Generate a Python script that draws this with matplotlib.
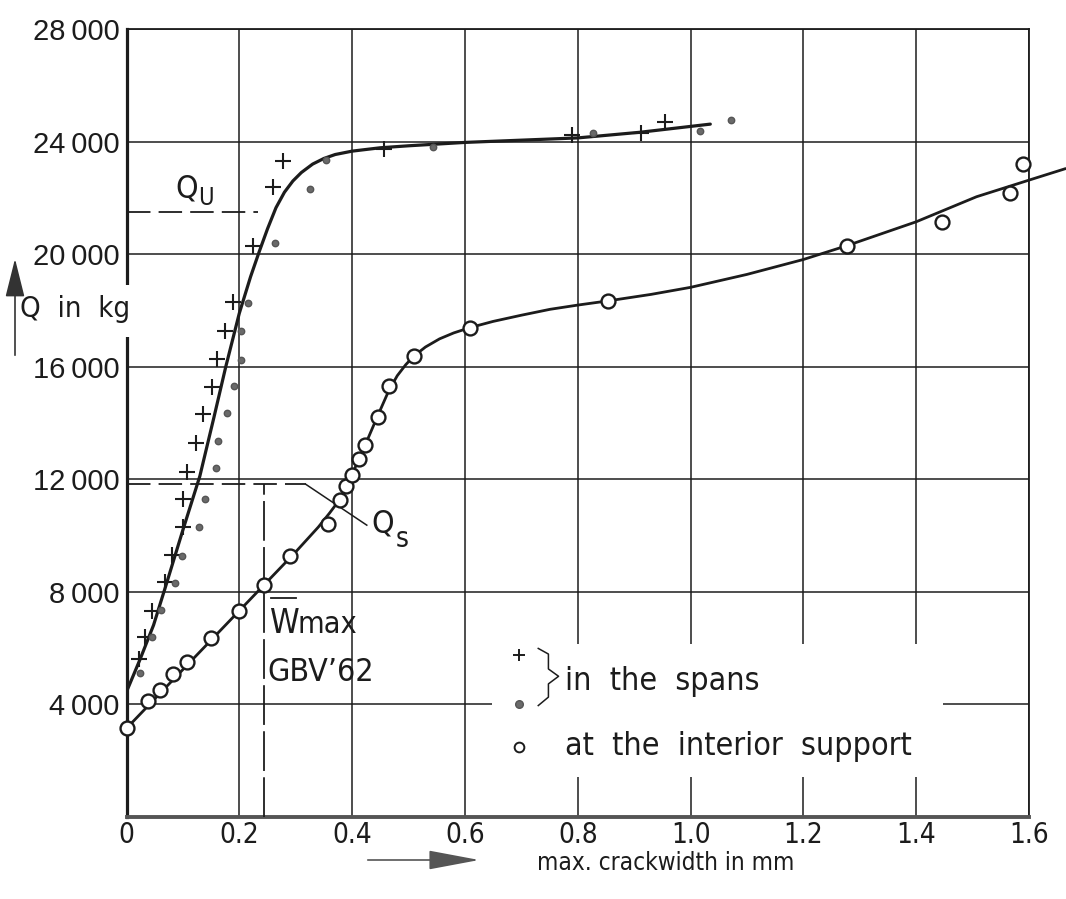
import matplotlib
matplotlib.use("Agg")
import matplotlib.pyplot as plt
from matplotlib.font_manager import fontManager
from matplotlib.patches import Rectangle

# measured crack widths (mm) and loads (kg)
# "+" in the spans
plus_w = [0.0227, 0.033, 0.0447, 0.068, 0.080, 0.101, 0.101, 0.108, 0.123, 0.135, 0.151,
          0.161, 0.175, 0.189, 0.225, 0.259, 0.278, 0.457, 0.789, 0.912, 0.955]
plus_q = [5600, 6400, 7320, 8360, 9310, 10310, 11290, 12270, 13300, 14320, 15290,
          16290, 17280, 18300, 20290, 22370, 23310, 23750, 24230, 24320, 24700]
# "." in the spans
dot_w = [0.024, 0.045, 0.062, 0.086, 0.098, 0.129, 0.139, 0.159, 0.162, 0.178, 0.191,
         0.203, 0.203, 0.215, 0.263, 0.325, 0.353, 0.543, 0.827, 1.017, 1.071]
dot_q = [5130, 6400, 7350, 8300, 9270, 10310, 11290, 12410, 13370, 14360, 15310,
         16230, 17260, 18270, 20380, 22330, 23340, 23810, 24290, 24380, 24760]
# "o" at the interior support
circ_w = [0, 0.039, 0.059, 0.082, 0.108, 0.149, 0.199, 0.244, 0.289, 0.358, 0.379, 0.390,
          0.400, 0.412, 0.423, 0.445, 0.465, 0.509, 0.609, 0.854, 1.277, 1.446, 1.567, 1.589]
circ_q = [3170, 4110, 4510, 5070, 5510, 6360, 7330, 8250, 9270, 10400, 11250, 11750,
          12170, 12720, 13210, 14220, 15310, 16380, 17360, 18330, 20300, 21140, 22180, 23190]

# hand drawn mean curves
span_w = [0, 0.024, 0.048, 0.071, 0.10, 0.13, 0.155, 0.176, 0.2, 0.22, 0.2355, 0.25, 0.265,
          0.28, 0.295, 0.31, 0.33, 0.35, 0.37, 0.40, 0.45, 0.5, 0.6, 0.7, 0.8, 0.91, 1.035]
span_q = [4450, 5600, 6820, 8300, 10200, 12110, 14200, 16000, 17900, 19200, 20100, 20900, 21650,
          22200, 22600, 22900, 23200, 23400, 23540, 23660, 23780, 23850, 23970, 24050, 24130, 24330, 24620]
supp_w = [0, 0.1, 0.2, 0.3, 0.34, 0.36, 0.375, 0.39, 0.40, 0.412, 0.423, 0.445, 0.465, 0.48,
          0.495, 0.509, 0.53, 0.555, 0.58, 0.609, 0.65, 0.7, 0.751, 0.8, 0.854, 0.93, 1.0,
          1.1, 1.2, 1.277, 1.4, 1.507, 1.6, 1.665]
supp_q = [3150, 5240, 7330, 9420, 10300, 10800, 11200, 11750, 12170, 12720, 13210, 14240, 15150, 15680,
          16070, 16370, 16700, 16990, 17200, 17390, 17610, 17830, 18040, 18190, 18340, 18570, 18820,
          19280, 19810, 20300, 21150, 22040, 22630, 23040]

x_ticks = [0, 0.2, 0.4, 0.6, 0.8, 1.0, 1.2, 1.4, 1.6]
x_labels = ["0", "0.2", "0.4", "0.6", "0.8", "1.0", "1.2", "1.4", "1.6"]
y_ticks = [4000, 8000, 12000, 16000, 20000, 24000, 28000]
y_labels = ["4\u2009000", "8\u2009000", "12\u2009000", "16\u2009000", "20\u2009000", "24\u2009000", "28\u2009000"]

q_u = 21490
q_s = 11820
w_max = 0.244

names = {f.name for f in fontManager.ttflist}
tech = "Liberation Sans Narrow" if "Liberation Sans Narrow" in names else "DejaVu Sans"
tech_fam = [tech, "DejaVu Sans"]
num_fam = ["Liberation Sans", "DejaVu Sans"]
ink = "#1c1c1c"
tk = dict(family=tech_fam, stretch="condensed", color=ink)

fig = plt.figure(figsize=(10.66, 8.99), dpi=100)
ax = fig.add_axes([126.5 / 1066, 1 - 817 / 899, 902.5 / 1066, 788 / 899])
ax.set_xlim(0, 1.6)
ax.set_ylim(0, 28000)

ax.set_xticks(x_ticks)
ax.set_xticklabels(x_labels, family=tech_fam, fontsize=20, stretch="condensed")
ax.set_yticks(y_ticks)
ax.set_yticklabels(y_labels, family=num_fam, fontsize=21)
ax.tick_params(length=0, colors=ink)
ax.tick_params(axis="x", pad=3)
ax.tick_params(axis="y", pad=5)
ax.grid(True, color=ink, lw=1.1)
ax.set_axisbelow(True)

for side, w in [("left", 2.3), ("bottom", 2.8), ("top", 1.3), ("right", 1.3)]:
    ax.spines[side].set_linewidth(w)
    ax.spines[side].set_color(ink if side != "bottom" else "#555555")

# gap in the grid behind the key
ax.add_patch(Rectangle((0.648, 1420), 0.8, 4730, facecolor="white", edgecolor="none", zorder=1))
# gap in the left axis line where the axis title sits
ax.add_patch(Rectangle((-0.012, 17050), 0.024, 1850, facecolor="white", edgecolor="none",
                       zorder=3, clip_on=False))

ax.plot(span_w, span_q, color=ink, lw=2.3, zorder=3, solid_capstyle="round")
ax.plot(supp_w, supp_q, color=ink, lw=2.0, zorder=3, clip_on=False, solid_capstyle="round")

ax.plot(plus_w, plus_q, ls="none", marker="+", ms=12, mew=1.5, color=ink, zorder=4)
ax.plot(dot_w, dot_q, ls="none", marker="o", ms=4.6, color="#6a6a6a", mec="#555555", zorder=4)
ax.plot(circ_w, circ_q, ls="none", marker="o", ms=10, mfc="white", mec=ink, mew=1.7,
        zorder=5, clip_on=False)

# Q_U
dash = (0, (13, 4.5))
ax.plot([0, 0.233], [q_u, q_u], color=ink, lw=1.3, ls=dash, zorder=3)
ax.text(0.106, 22330, "Q", fontsize=23, ha="center", va="center", **tk)
ax.text(0.141, 21990, "U", fontsize=17, ha="center", va="center", **tk)

# Q_s
ax.plot([0, 0.318], [q_s, q_s], color=ink, lw=1.3, ls=dash, zorder=3)
ax.plot([0.318, 0.426], [q_s, 10370], color=ink, lw=1.1, zorder=3)
ax.plot([w_max, w_max], [0, q_s], color=ink, lw=1.3, ls=(0, (22, 3.5)), zorder=3)
ax.text(0.455, 10410, "Q", fontsize=23, ha="center", va="center", **tk)
ax.text(0.489, 9875, "s", fontsize=20, ha="center", va="center", **tk)

# W_max GBV'62
ax.text(0.255, 6540, "W", fontsize=24, ha="left", va="baseline", **tk)
ax.plot([0.256, 0.300], [7790, 7790], color=ink, lw=1.3, zorder=3)
ax.text(0.303, 6540, "max", fontsize=22, ha="left", va="baseline", **tk)
ax.text(0.250, 4850, "GBV\u201962", fontsize=23, ha="left", va="baseline", **tk)

# key
ax.plot([0.696], [5755], marker="+", ms=9, mew=1.4, color=ink, zorder=4)
ax.plot([0.696], [4014], marker="o", ms=5.5, color="#6a6a6a", mec="#555555", zorder=4)
ax.plot([0.696], [2490], marker="o", ms=7, mfc="white", mec=ink, mew=1.4, zorder=4)
brace_w = [0.730, 0.748, 0.748, 0.766, 0.748, 0.748, 0.730]
brace_q = [5990, 5790, 5260, 5000, 4730, 4260, 3960]
ax.plot(brace_w, brace_q, color=ink, lw=1.1, zorder=4)
ax.text(0.778, 4510, "in  the  spans", fontsize=23, ha="left", va="baseline", **tk)
ax.text(0.778, 2200, "at  the  interior  support", fontsize=23, ha="left", va="baseline", **tk)

# axis titles with arrows
fig.text(20 / 1066, 1 - 309 / 899, "Q  in  kg", fontsize=21, ha="left", va="center", **tk)
ax.annotate("", xy=(15 / 1066, 1 - 256 / 899), xytext=(15 / 1066, 1 - 358 / 899),
            xycoords="figure fraction", textcoords="figure fraction",
            arrowprops=dict(arrowstyle="-|>,head_length=1.2,head_width=0.3", color="#333333",
                            lw=1.2, mutation_scale=20))
fig.text(537 / 1066, 1 - 863 / 899, "max. crackwidth in mm", fontsize=17.5, ha="left", va="center", **tk)
ax.annotate("", xy=(482 / 1066, 1 - 860 / 899), xytext=(365 / 1066, 1 - 860 / 899),
            xycoords="figure fraction", textcoords="figure fraction",
            arrowprops=dict(arrowstyle="-|>,head_length=1.6,head_width=0.3", color="#555555",
                            lw=1.2, mutation_scale=20))

fig.savefig("out.png", dpi=100, facecolor="white")
